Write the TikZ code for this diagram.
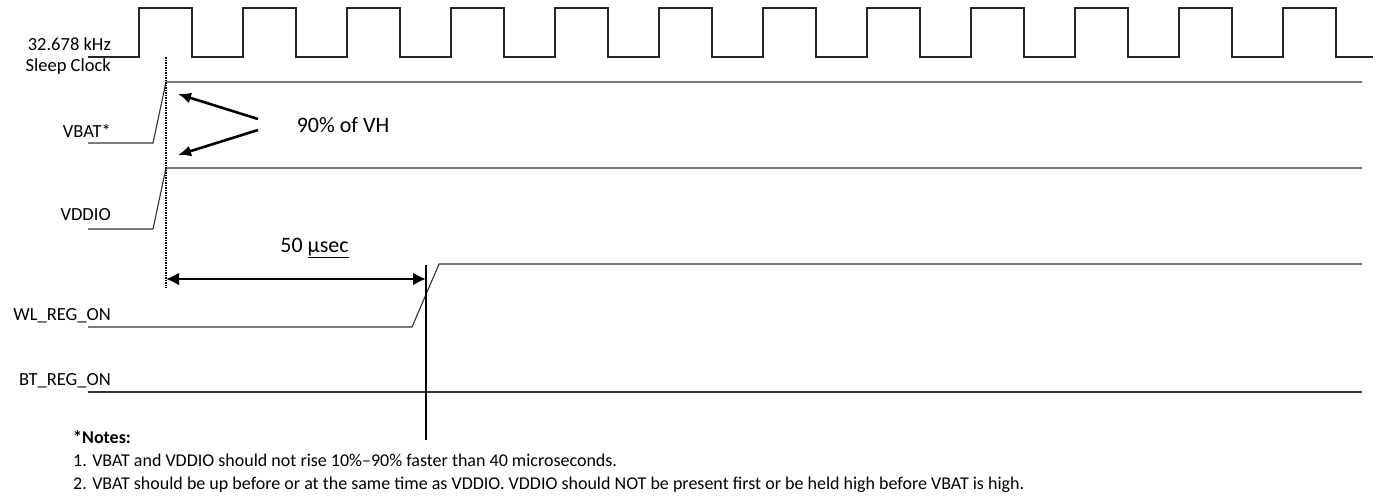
\documentclass[tikz,border=0pt]{standalone}
\usepackage{fontspec}
\setmainfont{Carlito}
\usetikzlibrary{arrows.meta}
\begin{document}
\begin{tikzpicture}[x=1pt,y=-1pt,
  sig/.style={line width=1.1pt,black!80},
  clk/.style={line width=1.6pt,black!85},
  lbl/.style={anchor=east,inner sep=0pt,font=\fontsize{18.5}{21}\selectfont},
  txt/.style={inner sep=0pt,font=\fontsize{18}{23}\selectfont},
  big/.style={inner sep=0pt,font=\fontsize{22}{26}\selectfont},
  fat/.style={line width=2.6pt,-{Latex[length=13pt,width=11pt]}}]
  \useasboundingbox (0,0) rectangle (1380,499);
  % signal names
  \node[lbl,align=right] (clk) at (111,56) {32.678 kHz\\Sleep Clock};
  \node[lbl] (vbat) at (111,131) {VBAT*};
  \node[lbl] (vddio) at (111,215) {VDDIO};
  \node[lbl] (wl) at (111,316) {WL\_REG\_ON};
  \node[lbl] (bt) at (111,381) {BT\_REG\_ON};
  % sleep clock
  \draw[clk] (88,57) \foreach \k in {0,...,11} {
      -- ({139+104*\k},57) -- ({139+104*\k},8) -- ({192+104*\k},8) -- ({192+104*\k},57)
    } -- (1373,57);
  % supplies and enables
  \draw[sig] (88,143) -- (153,143) -- (166,82) -- (1362,82);
  \draw[sig] (88,229) -- (153,229) -- (166,168) -- (1362,168);
  \draw[sig] (88,327) -- (412,327) -- (439,264) -- (1362,264);
  \draw[sig] (88,392) -- (1362,392);
  % markers
  \coordinate (m0) at (166,57);
  \coordinate (m1) at (166,288);
  \coordinate (w0) at (426,265);
  \coordinate (w1) at (426,440);
  \draw[line width=1.4pt,dash pattern=on 1.5pt off 1pt] (m0) -- (m1);
  \draw[line width=1.5pt] (w0) -- (w1);
  % 90% of VH
  \node[big] (vh) at (343,125) {90\% of VH};
  \coordinate (a0) at (258,119);
  \coordinate (a1) at (258,130);
  \coordinate (h0) at (178,94);
  \coordinate (h1) at (178,155);
  \draw[fat] (a0) -- (h0);
  \draw[fat] (a1) -- (h1);
  % 50 usec
  \node[big] (dly) at (314.5,248) {50 \underline{µsec}};
  \coordinate (t0) at (166,279);
  \coordinate (t1) at (426,279);
  \draw[fat,{Latex[length=13pt,width=13pt]}-{Latex[length=13pt,width=13pt]}] (t0) -- (t1);
  % notes
  \node[txt,anchor=north west,align=left] (notes) at (73,430) {\textbf{*Notes:}\\
    1. VBAT and VDDIO should not rise 10\%–90\% faster than 40 microseconds.\\
    2. VBAT should be up before or at the same time as VDDIO. VDDIO should NOT be present first or be held high before VBAT is high.};
\end{tikzpicture}
\end{document}
